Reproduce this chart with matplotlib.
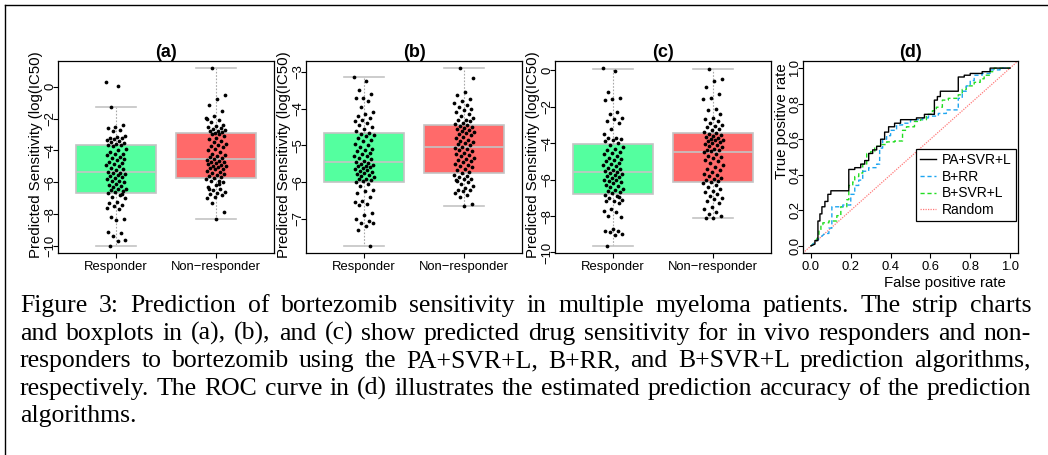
import numpy as np
import matplotlib
matplotlib.use('Agg')
import matplotlib.pyplot as plt
from matplotlib.lines import Line2D

plt.rcParams['font.family'] = ['Liberation Sans', 'DejaVu Sans']

W, H = 1048, 455

# ---------------- data ----------------
groups = ['Responder', 'Non\u2212responder']
panel_titles = ['(a)', '(b)', '(c)', '(d)']
ylabel_text = 'Predicted Sensitivity (log(IC50)'

a_resp = [0.29, 0.04, -1.25, -2.4, -2.5, -2.6, -2.7, -2.75, -3.1, -3.15, -3.2, -3.25, -3.3, -3.35, -3.4, -3.5,
          -3.55, -3.6, -3.65, -3.68,
          -3.75, -3.9, -4.0, -4.1, -4.2, -4.25, -4.3, -4.4, -4.5, -4.55, -4.6, -4.7, -4.8, -4.85, -4.9, -5.0,
          -5.1, -5.2, -5.25, -5.35,
          -5.4, -5.45, -5.5, -5.55, -5.6, -5.7, -5.75, -5.8, -5.9, -5.95, -6.0, -6.1, -6.2, -6.25, -6.3, -6.4,
          -6.45, -6.5, -6.55, -6.6,
          -6.7, -6.8, -6.9, -7.0, -7.25, -7.3, -7.4, -7.5, -7.6, -7.7, -8.2, -8.3, -8.35, -9.1, -9.2, -9.35,
          -9.6, -9.7, -10.0, -6.75]
a_non = [1.17, -0.55, -0.75, -1.15, -1.5, -1.85, -1.95, -2.1, -2.2, -2.4, -2.45, -2.5, -2.6, -2.65, -2.7, -2.75,
         -2.8, -2.85, -2.88, -2.0,
         -2.95, -3.0, -3.1, -3.2, -3.3, -3.4, -3.5, -3.6, -3.65, -3.7, -3.8, -3.9, -4.0, -4.1, -4.2, -4.3,
         -4.35, -4.4, -4.5, -4.55,
         -4.6, -4.65, -4.7, -4.75, -4.8, -4.85, -4.9, -4.95, -5.0, -5.05, -5.1, -5.15, -5.2, -5.3, -5.35, -5.4,
         -5.5, -5.55, -5.6, -5.7,
         -5.75, -5.8, -5.9, -5.95, -6.0, -6.2, -6.3, -6.4, -6.5, -6.6, -6.7, -6.75, -6.8, -6.9, -7.0, -6.1,
         -7.3, -7.9, -8.3, -6.45]
b_resp = [-3.14, -3.25, -3.5, -3.6, -3.7, -3.72, -3.8, -3.95, -4.1, -4.15, -4.2, -4.25, -4.3, -4.35, -4.4, -4.45,
          -4.5, -4.55, -4.6, -4.65,
          -4.7, -4.72, -4.75, -4.8, -4.85, -4.88, -4.95, -5.0, -5.05, -5.1, -5.12, -5.15, -5.2, -5.22, -5.28,
          -5.3, -5.35, -5.38, -5.42, -5.45,
          -5.48, -5.5, -5.52, -5.55, -5.57, -5.6, -5.62, -5.65, -5.68, -5.7, -5.72, -5.75, -5.78, -5.8, -5.83,
          -5.86, -5.9, -5.92, -5.95, -5.98,
          -6.0, -6.05, -6.1, -6.2, -6.25, -6.3, -6.4, -6.5, -6.55, -6.6, -6.62, -6.85, -6.9, -7.0, -7.05, -7.1,
          -7.12, -7.2, -7.3, -7.73]
b_non = [-2.90, -3.18, -3.55, -3.62, -3.75, -3.8, -3.85, -3.9, -3.95, -4.0, -4.05, -4.1, -4.15, -4.2, -4.25, -4.3,
         -4.32, -4.35, -4.38, -4.42,
         -4.45, -4.48, -4.5, -4.52, -4.55, -4.58, -4.6, -4.63, -4.66, -4.7, -4.73, -4.76, -4.8, -4.84, -4.88,
         -4.9, -4.94, -4.97, -5.0, -5.03,
         -5.07, -5.1, -5.13, -5.16, -5.2, -5.23, -5.26, -5.3, -5.33, -5.36, -5.4, -5.43, -5.46, -5.5, -5.53,
         -5.56, -5.6, -5.64, -5.68, -5.72,
         -5.76, -5.8, -5.83, -5.86, -5.9, -5.92, -5.95, -6.0, -6.05, -6.1, -6.15, -6.2, -6.22, -6.25, -6.3,
         -6.35, -6.4, -6.6, -6.64, -5.98]
c_resp = [0.12, -0.04, -1.2, -1.5, -1.6, -1.65, -2.3, -2.4, -2.6, -2.7, -2.8, -2.9, -3.2, -3.5, -3.7, -3.72,
          -3.75, -3.8, -3.9, -4.0,
          -4.1, -4.2, -4.3, -4.4, -4.5, -4.55, -4.6, -4.7, -4.8, -4.85, -4.9, -5.0, -5.1, -5.15, -5.2, -5.25,
          -5.35, -5.4, -5.5, -5.55,
          -5.6, -5.65, -5.7, -5.75, -5.8, -5.85, -5.9, -6.0, -6.05, -6.1, -6.15, -6.2, -6.3, -6.35, -6.4, -6.5,
          -6.55, -6.6, -6.7, -6.75,
          -6.85, -6.9, -7.0, -7.1, -7.15, -7.2, -7.3, -7.6, -7.7, -7.8, -8.0, -8.05, -8.7, -8.8, -8.85, -8.9,
          -9.0, -9.05, -9.64, -6.95]
c_non = [0.07, -0.5, -0.6, -0.9, -1.3, -1.5, -1.6, -2.1, -2.2, -2.4, -2.6, -2.7, -2.8, -2.9, -3.0, -3.05,
         -3.1, -3.2, -3.3, -3.4,
         -3.45, -3.5, -3.55, -3.6, -3.65, -3.7, -3.75, -3.8, -3.85, -3.9, -3.95, -4.0, -4.05, -4.1, -4.15,
         -4.2, -4.3, -4.35, -4.4, -4.45,
         -4.5, -4.6, -4.7, -4.75, -4.8, -4.9, -5.0, -5.1, -5.2, -5.3, -5.4, -5.5, -5.6, -5.7, -5.75, -5.8,
         -5.9, -5.95, -6.0, -6.1,
         -6.15, -6.2, -6.3, -6.4, -6.5, -6.6, -6.7, -6.8, -6.9, -7.0, -7.05, -7.15, -7.3, -7.5, -7.6, -7.8,
         -7.9, -8.0, -8.1, -8.13]

# box statistics: [whisker low, q1, median, q3, whisker high]
a_resp_box = [-10.0, -6.67, -5.38, -3.69, -1.25]
a_non_box = [-8.3, -5.73, -4.56, -2.90, 1.17]
b_resp_box = [-7.73, -5.99, -5.46, -4.67, -3.14]
b_non_box = [-6.64, -5.74, -5.05, -4.44, -2.90]
c_resp_box = [-9.64, -6.80, -5.58, -4.04, 0.09]
c_non_box = [-8.13, -6.11, -4.47, -3.42, 0.07]

a_yticks = [-10, -8, -6, -4, -2, 0]
b_yticks = [-7, -6, -5, -4, -3]
c_yticks = [-10, -8, -6, -4, -2, 0]

# ROC curves (false positive rate, true positive rate)
pa_fpr = [0, 0.02, 0.02, 0.035, 0.035, 0.045, 0.045, 0.055, 0.055, 0.07, 0.07, 0.085, 0.085, 0.10, 0.10, 0.19,
          0.19, 0.22, 0.22, 0.25, 0.25, 0.27, 0.27, 0.29, 0.29, 0.31, 0.31, 0.33, 0.33, 0.35, 0.35, 0.37, 0.37,
          0.39, 0.39, 0.42, 0.42, 0.45, 0.45, 0.53, 0.53, 0.57, 0.57, 0.62, 0.62, 0.635, 0.635, 0.65, 0.65,
          0.74, 0.74, 0.77, 0.77, 0.80, 0.80, 0.86, 0.86, 0.90, 0.90, 1.0]
pa_tpr = [0, 0.01, 0.03, 0.03, 0.14, 0.14, 0.18, 0.18, 0.22, 0.22, 0.25, 0.25, 0.29, 0.29, 0.31, 0.31,
          0.43, 0.43, 0.44, 0.44, 0.46, 0.46, 0.48, 0.48, 0.52, 0.52, 0.54, 0.54, 0.56, 0.56, 0.60, 0.60, 0.64,
          0.64, 0.67, 0.67, 0.69, 0.69, 0.71, 0.71, 0.72, 0.72, 0.74, 0.74, 0.82, 0.82, 0.84, 0.84, 0.87,
          0.87, 0.95, 0.95, 0.96, 0.96, 0.97, 0.97, 0.98, 0.98, 1.0, 1.0]
rr_fpr = [0, 0.02, 0.05, 0.07, 0.09, 0.09, 0.105, 0.105, 0.16, 0.16, 0.20, 0.20, 0.22, 0.22, 0.24, 0.24, 0.26,
          0.26, 0.29, 0.29, 0.33, 0.33, 0.345, 0.345, 0.36, 0.36, 0.38, 0.38, 0.40, 0.40, 0.43, 0.43, 0.46,
          0.46, 0.50, 0.50, 0.56, 0.56, 0.59, 0.59, 0.64, 0.64, 0.68, 0.68, 0.74, 0.74, 0.76, 0.76, 0.78,
          0.78, 0.80, 0.80, 0.82, 0.82, 0.86, 0.86, 0.90, 0.90, 0.95, 0.95, 1.0]
rr_tpr = [0, 0.02, 0.05, 0.07, 0.07, 0.10, 0.10, 0.22, 0.22, 0.23, 0.23, 0.29, 0.29, 0.34, 0.34, 0.37, 0.37,
          0.42, 0.42, 0.44, 0.44, 0.46, 0.46, 0.55, 0.55, 0.60, 0.60, 0.62, 0.62, 0.65, 0.65, 0.68, 0.68,
          0.69, 0.69, 0.71, 0.71, 0.72, 0.72, 0.73, 0.73, 0.745, 0.745, 0.765, 0.765, 0.83, 0.83, 0.87, 0.87,
          0.90, 0.90, 0.93, 0.93, 0.96, 0.96, 0.97, 0.97, 0.99, 0.99, 1.0, 1.0]
sv_fpr = [0, 0.02, 0.04, 0.04, 0.05, 0.05, 0.06, 0.06, 0.09, 0.09, 0.13, 0.13, 0.15, 0.15, 0.18, 0.18, 0.19,
          0.19, 0.21, 0.21, 0.22, 0.22, 0.24, 0.24, 0.26, 0.26, 0.28, 0.28, 0.30, 0.30, 0.32, 0.32, 0.35, 0.35,
          0.38, 0.38, 0.42, 0.42, 0.46, 0.46, 0.48, 0.48, 0.52, 0.52, 0.55, 0.55, 0.58, 0.58, 0.61, 0.61,
          0.63, 0.63, 0.66, 0.66, 0.69, 0.69, 0.74, 0.74, 0.76, 0.76, 0.78, 0.78, 0.82, 0.82, 0.85, 0.85,
          0.87, 0.87, 0.90, 0.90, 0.92, 0.92, 1.0]
sv_tpr = [0, 0.02, 0.06, 0.09, 0.09, 0.12, 0.12, 0.13, 0.13, 0.14, 0.14, 0.17, 0.17, 0.22, 0.22, 0.26, 0.26,
          0.34, 0.34, 0.36, 0.36, 0.39, 0.39, 0.41, 0.41, 0.46, 0.46, 0.52, 0.52, 0.53, 0.53, 0.56, 0.56, 0.57,
          0.57, 0.585, 0.585, 0.59, 0.59, 0.65, 0.65, 0.67, 0.67, 0.70, 0.70, 0.71, 0.71, 0.74, 0.74, 0.76,
          0.76, 0.78, 0.78, 0.82, 0.82, 0.83, 0.83, 0.85, 0.85, 0.88, 0.88, 0.90, 0.90, 0.92, 0.92, 0.94,
          0.94, 0.96, 0.96, 0.98, 0.98, 1.0, 1.0]
roc_labels = ['PA+SVR+L', 'B+RR', 'B+SVR+L', 'Random']
roc_ticks = [0.0, 0.2, 0.4, 0.6, 0.8, 1.0]

caption_lines = [
    "Figure 3: Prediction of bortezomib sensitivity in multiple myeloma patients. The strip charts",
    "and boxplots in (a), (b), and (c) show predicted drug sensitivity for in vivo responders and non-",
    "responders to bortezomib using the PA+SVR+L, B+RR, and B+SVR+L prediction algorithms,",
    "respectively. The ROC curve in (d) illustrates the estimated prediction accuracy of the prediction",
    "algorithms.",
]

# ---------------- layout helpers ----------------
fig = plt.figure(figsize=(W / 100, H / 100), dpi=100)


def ax_at(x0, y0, x1, y1):
    return fig.add_axes([x0 / W, 1 - y1 / H, (x1 - x0) / W, (y1 - y0) / H])


def fx(x):
    return x / W


def fy(y):
    return 1 - y / H


GREEN = '#54FF9F'
RED = '#FF6A6A'
BOXEDGE = '#C4C4C4'
TICKFS = 9.4
LABFS = 10.8

panels = [
    (58, 274, a_resp, a_non, a_resp_box, a_non_box, a_yticks, 36),
    (306, 522, b_resp, b_non, b_resp_box, b_non_box, b_yticks, 284),
    (555, 771, c_resp, c_non, c_resp_box, c_non_box, c_yticks, 533),
]


def style_axes(ax):
    ax.tick_params(axis='both', length=3.6, width=0.8, direction='out')
    ax.tick_params(axis='x', pad=2.0)
    ax.tick_params(axis='y', pad=-2.5)
    for s in ax.spines.values():
        s.set_linewidth(0.9)


for i, (x0, x1, resp, non, rbox, nbox, yt, ylx) in enumerate(panels):
    ax = ax_at(x0, 61, x1, 253)
    allv = np.array(resp + non)
    lo, hi = allv.min(), allv.max()
    ext = (hi - lo) * 0.04
    ax.set_ylim(lo - ext, hi + ext)
    ax.set_xlim(0.42, 2.58)
    stats = []
    for b in (rbox, nbox):
        stats.append(dict(whislo=b[0], q1=b[1], med=b[2], q3=b[3], whishi=b[4], fliers=[]))
    bp = ax.bxp(stats, positions=[1, 2], widths=0.8, capwidths=0.4, patch_artist=True, showfliers=False,
                boxprops=dict(edgecolor=BOXEDGE, linewidth=1.2),
                medianprops=dict(color=BOXEDGE, linewidth=1.2),
                whiskerprops=dict(color='#A8A8A8', linewidth=0.8, linestyle=(0, (1.5, 1.5))),
                capprops=dict(color=BOXEDGE, linewidth=1.2))
    for patch, col in zip(bp['boxes'], (GREEN, RED)):
        patch.set_facecolor(col)
    for gi, vals in enumerate((resp, non)):
        n = len(vals)
        jit = ((np.arange(n) * 0.6180339887 + 0.31 * gi) % 1.0 - 0.5) * 0.2
        ax.plot(gi + 1 + jit, vals, 'o', ms=2.7, color='black', mec='black', mew=0, zorder=4)
    ax.set_xticks([1, 2])
    ax.set_xticklabels(groups, fontsize=TICKFS)
    ax.set_yticks(yt)
    ax.set_yticklabels([str(v).replace('-', '\u2212') for v in yt], fontsize=TICKFS, rotation=90, va='center')
    style_axes(ax)
    ax.set_title(panel_titles[i], fontsize=13, fontweight='bold', pad=2.0)
    fig.text(fx(ylx), fy(155), ylabel_text, rotation=90, ha='center', va='center', fontsize=LABFS)

# ROC panel
ax = ax_at(803, 61, 1018, 253)
ax.set_xlim(-0.04, 1.04)
ax.set_ylim(-0.04, 1.04)
ax.plot(pa_fpr, pa_tpr, color='black', lw=1.0, label=roc_labels[0], zorder=5)
ax.plot(rr_fpr, rr_tpr, color='#1EA5F0', lw=1.0, ls=(0, (3, 2)), label=roc_labels[1], zorder=4)
ax.plot(sv_fpr, sv_tpr, color='#22DD22', lw=1.0, ls=(0, (3, 2)), label=roc_labels[2], zorder=3)
ax.axline((0, 0), (1, 1), color='#FF7A7A', lw=0.9, ls=(0, (1, 1)), label=roc_labels[3], zorder=2)
ax.set_xticks(roc_ticks)
ax.set_xticklabels(['%.1f' % v for v in roc_ticks], fontsize=TICKFS)
ax.set_yticks(roc_ticks)
ax.set_yticklabels(['%.1f' % v for v in roc_ticks], fontsize=TICKFS, rotation=90, va='center')
style_axes(ax)
ax.set_title(panel_titles[3], fontsize=13, fontweight='bold', pad=2.0)
leg = ax.legend(loc='lower right', bbox_to_anchor=(0.99, 0.165), fontsize=10, frameon=True, fancybox=False,
                edgecolor='black', framealpha=1, borderpad=0.3, labelspacing=0.2, handlelength=1.1,
                handletextpad=0.45, borderaxespad=0)
leg.get_frame().set_linewidth(0.9)
fig.text(fx(945), fy(283), 'False positive rate', ha='center', va='center', fontsize=LABFS)
fig.text(fx(782), fy(121), 'True positive rate', rotation=90, ha='center', va='center', fontsize=LABFS)

# frame lines of the screenshot
fig.add_artist(Line2D([fx(5), fx(5)], [0, fy(5)], transform=fig.transFigure, color='black', lw=1.0))
fig.add_artist(Line2D([fx(5), 1], [fy(5), fy(5)], transform=fig.transFigure, color='black', lw=1.0))

# justified caption
renderer = fig.canvas.get_renderer()
CAPFS = 18.5
cap_x0, cap_x1 = 20, 1031
baselines = [312, 340, 367, 395, 422]
for li, (line, yb) in enumerate(zip(caption_lines, baselines)):
    if li == len(caption_lines) - 1:
        fig.text(fx(cap_x0), fy(yb), line, fontsize=CAPFS, family='Liberation Serif', va='baseline', ha='left')
        continue
    words = line.split(' ')
    ts = [fig.text(0, 0, w, fontsize=CAPFS, family='Liberation Serif', va='baseline', ha='left') for w in words]
    widths = [t.get_window_extent(renderer).width for t in ts]
    gap = (cap_x1 - cap_x0 - sum(widths)) / (len(words) - 1)
    xx = cap_x0
    for t, wd in zip(ts, widths):
        t.set_position((fx(xx), fy(yb)))
        xx += wd + gap

fig.savefig('out.png', dpi=100, facecolor='white')
